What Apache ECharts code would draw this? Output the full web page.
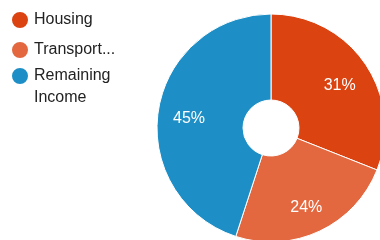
<!DOCTYPE html>
<html>
<head>
<meta charset="utf-8">
<script src="https://cdn.jsdelivr.net/npm/echarts@6/dist/echarts.min.js"></script>
<style>html,body{margin:0;padding:0;background:#fff}#c{width:380px;height:240px}</style>
</head>
<body>
<div id="c"></div>
<script>
var categories = ['Housing', 'Transportation', 'Remaining Income'];
var values = [31, 24, 45];
var colors = ['#DB4311', '#E3683F', '#1E8FC6'];

var data = categories.map(function (n, i) {
  return { name: n, value: values[i], itemStyle: { color: colors[i] } };
});

var chart = echarts.init(document.getElementById('c'), null, { renderer: 'canvas' });
var font = 'Arial, "Liberation Sans", sans-serif';
chart.setOption({
  animation: false,
  color: colors,
  legend: [{
    orient: 'vertical', left: 10, top: 9, padding: 0,
    data: [categories[0], categories[1]],
    icon: 'circle', itemWidth: 18, itemHeight: 18, itemGap: 8,
    textStyle: { fontSize: 16, fontFamily: font, color: '#222', lineHeight: 22, width: 84, overflow: 'truncate', ellipsis: '...' },
    selectedMode: false
  }, {
    orient: 'vertical', left: 10, top: 43, padding: 0,
    data: [categories[2]],
    icon: 'circle', itemWidth: 18, itemHeight: 18,
    formatter: function (n) { return '\n' + n.replace(' ', '\n'); },
    textStyle: { fontSize: 16, fontFamily: font, color: '#222', lineHeight: 22 },
    selectedMode: false
  }],
  series: [{
    type: 'pie',
    center: [271, 128],
    radius: [28, 114],
    startAngle: 90,
    clockwise: true,
    silent: true,
    data: data,
    itemStyle: { borderColor: '#fff', borderWidth: 1 },
    label: { show: false },
    labelLine: { show: false }
  }, {
    type: 'pie',
    center: [271, 132],
    radius: [46, 114],
    startAngle: 90,
    clockwise: true,
    silent: true,
    legendHoverLink: false,
    data: data.map(function (d) { return { name: d.name, value: d.value, itemStyle: { color: 'rgba(0,0,0,0)' } }; }),
    itemStyle: { borderWidth: 0 },
    label: {
      show: true, position: 'inside', formatter: '{c}%',
      color: '#fff', fontSize: 16, fontFamily: font
    },
    labelLine: { show: false }
  }]
});
</script>
</body>
</html>
